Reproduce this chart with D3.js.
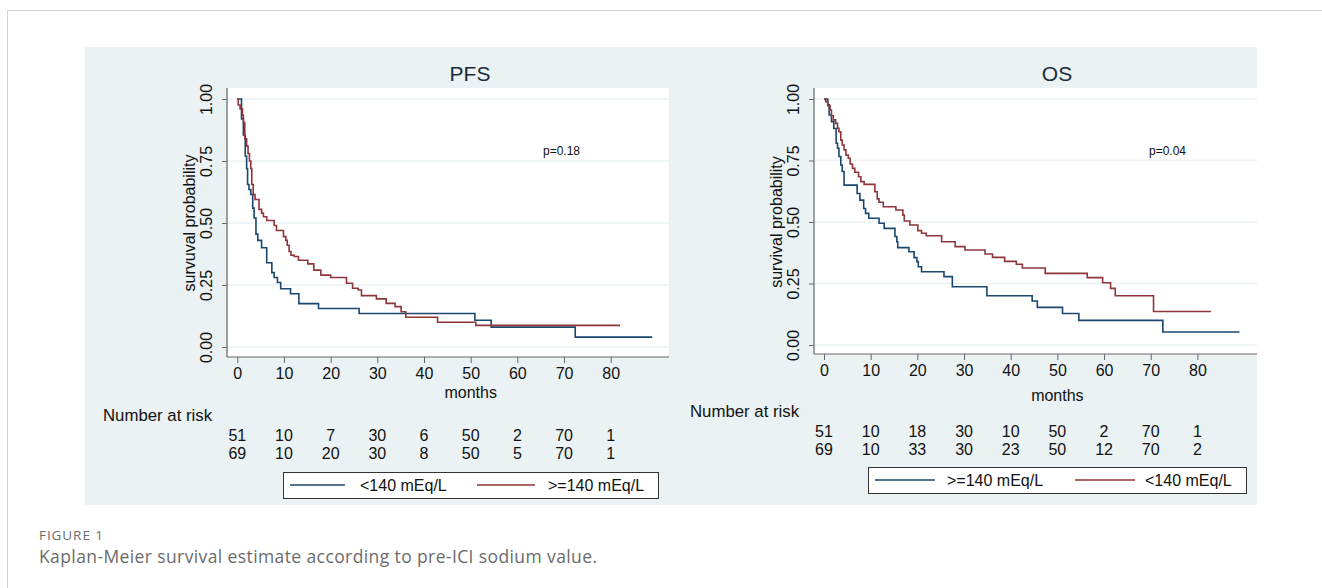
<!DOCTYPE html>
<html>
<head>
<meta charset="utf-8">
<script src="https://cdn.jsdelivr.net/npm/d3@7"></script>
<style>
  body { margin: 0; background: #fff; }
  svg { display: block; font-family: "Liberation Sans", Arial, sans-serif; }
  .tick text { font-size: 16px; fill: #111; }
  .caption { font-family: "Open Sans", sans-serif; fill: #6b6b6b; }
</style>
</head>
<body>
<svg width="1322" height="588"></svg>
<script>
// Kaplan-Meier steps: [months, survival]
var pfsLow = [[0,1],[0.9,0.92],[1.3,0.855],[1.7,0.77],[2.0,0.72],[2.2,0.655],[2.5,0.635],[2.9,0.615],[3.3,0.56],[3.6,0.52],
  [4.0,0.455],[4.4,0.43],[5.2,0.40],[6.3,0.34],[7.4,0.30],[7.9,0.28],[8.6,0.26],[9.3,0.235],[11.4,0.215],[13.2,0.175],
  [17.4,0.155],[26.1,0.135],[50.9,0.108],[54.4,0.08],[72.4,0.04],[88.9,0.04]];
var pfsHigh = [[0,1],[0.2,0.976],[0.6,0.96],[1.1,0.935],[1.3,0.905],[1.6,0.84],[2.0,0.81],[2.3,0.78],[2.6,0.75],[2.9,0.72],
  [3.1,0.655],[3.4,0.615],[3.8,0.595],[4.65,0.555],[5.2,0.54],[5.6,0.525],[6.3,0.51],[7.9,0.49],[8.4,0.47],[9.9,0.445],
  [10.4,0.43],[10.7,0.41],[11.1,0.385],[11.5,0.37],[12.2,0.365],[13.1,0.35],[15.1,0.335],[16.4,0.31],[17.9,0.29],[20.0,0.28],
  [23.4,0.257],[24.7,0.237],[25.9,0.23],[26.6,0.207],[29.8,0.194],[31.9,0.176],[33.8,0.163],[35.1,0.142],[36.1,0.12],
  [42.9,0.10],[51.1,0.087],[82.0,0.087]];
var osHigh = [[0,1],[0.8,0.976],[1.1,0.935],[1.6,0.908],[2.1,0.88],[2.6,0.82],[2.9,0.80],[3.2,0.766],[3.6,0.732],[3.9,0.705],
  [4.3,0.65],[7.1,0.616],[7.7,0.589],[8.5,0.555],[8.9,0.535],[9.6,0.515],[11.8,0.495],[12.9,0.474],[15.2,0.441],[15.6,0.42],
  [15.8,0.396],[18.2,0.379],[19.3,0.355],[19.9,0.339],[20.2,0.318],[20.9,0.298],[25.7,0.278],[27.5,0.237],[34.9,0.20],
  [44.6,0.179],[45.7,0.153],[51.1,0.128],[54.6,0.10],[72.6,0.053],[89.0,0.053]];
var osLow = [[0,1],[0.36,0.989],[0.8,0.973],[1.3,0.955],[1.6,0.932],[2.0,0.915],[2.5,0.901],[2.9,0.881],[3.2,0.867],[3.6,0.833],
  [3.9,0.813],[4.3,0.793],[4.7,0.772],[5.2,0.759],[5.6,0.736],[6.1,0.718],[6.6,0.702],[7.4,0.684],[7.9,0.664],[8.6,0.653],
  [10.9,0.623],[11.4,0.594],[11.8,0.58],[12.7,0.562],[15.4,0.549],[16.9,0.528],[17.2,0.504],[18.4,0.488],[20.1,0.465],
  [20.9,0.454],[21.9,0.444],[25.2,0.42],[28.1,0.40],[30.2,0.386],[34.5,0.37],[36.1,0.356],[38.7,0.34],[41.2,0.328],
  [42.5,0.313],[47.4,0.291],[56.4,0.274],[59.7,0.253],[61.4,0.23],[62.4,0.2],[70.6,0.136],[82.9,0.136]];

// number at risk rows, one value per x tick
var xTicks = [0, 10, 20, 30, 40, 50, 60, 70, 80];
var yTicks = [0, 0.25, 0.5, 0.75, 1];
var pfsRisk1 = [51, 10, 7, 30, 6, 50, 2, 70, 1];
var pfsRisk2 = [69, 10, 20, 30, 8, 50, 5, 70, 1];
var osRisk1 = [51, 10, 18, 30, 10, 50, 2, 70, 1];
var osRisk2 = [69, 10, 33, 30, 23, 50, 12, 70, 2];
var pfsLegend = ["<140 mEq/L", ">=140 mEq/L"];
var osLegend = [">=140 mEq/L", "<140 mEq/L"];

var navy = "#1a476f", maroon = "#90353b", bg = "#eaf2f3";

var svg = d3.select("svg");

// card + figure background
svg.append("rect").attr("x", 7.5).attr("y", 10.5).attr("width", 1330).attr("height", 600)
    .attr("fill", "#fff").attr("stroke", "#d4d4d4");
svg.append("rect").attr("x", 85).attr("y", 47).attr("width", 1172).attr("height", 458).attr("fill", bg);

svg.append("text").attr("class", "caption").attr("x", 39).attr("y", 540)
    .style("font-size", "13.5px").attr("textLength", 64).text("FIGURE 1");
svg.append("text").attr("class", "caption").attr("x", 39).attr("y", 563)
    .style("font-size", "17.5px").attr("textLength", 558)
    .text("Kaplan-Meier survival estimate according to pre-ICI sodium value.");

var panels = [
  {title: "PFS", titleX: 470, left: 227, right: 669, top: 88, bottom: 357, x0: 237.3, y0: 347, y1: 99,
   ylab: "survuval probability", p: "p=0.18", pX: 543, monthsY: 393,
   riskTitleX: 103, riskTitleY: 415, riskY: [435, 453], risk: [pfsRisk1, pfsRisk2],
   series: [pfsLow, pfsHigh], legend: pfsLegend,
   box: {x: 283, y: 472, w: 375, h: 26, l1: [290, 345], t1: 360, l2: [477, 535], t2: 548}},
  {title: "OS", titleX: 1057, left: 814, right: 1257, top: 88, bottom: 354, x0: 824, y0: 345, y1: 99,
   ylab: "survival probability", p: "p=0.04", pX: 1149, monthsY: 396,
   riskTitleX: 690, riskTitleY: 411, riskY: [431, 449], risk: [osRisk1, osRisk2],
   series: [osHigh, osLow], legend: osLegend,
   box: {x: 868, y: 467, w: 378, h: 26, l1: [875, 935], t1: 947, l2: [1075, 1135], t2: 1145}}
];

panels.forEach(function (P) {
  var g = svg.append("g");
  var x = d3.scaleLinear().domain([0, 80]).range([P.x0, P.x0 + 373.4]);
  var y = d3.scaleLinear().domain([0, 1]).range([P.y0, P.y1]);

  g.append("text").attr("x", P.titleX).attr("y", 81).attr("text-anchor", "middle")
      .style("font-size", "21px").attr("fill", "#1c2b3c").text(P.title);

  // plot region
  g.append("rect").attr("x", P.left).attr("y", P.top)
      .attr("width", P.right - P.left).attr("height", P.bottom - P.top).attr("fill", "#fff");

  g.selectAll(".grid").data(yTicks).enter().append("line")
      .attr("x1", P.left).attr("x2", P.right)
      .attr("y1", function (d) { return y(d); }).attr("y2", function (d) { return y(d); })
      .attr("stroke", bg).attr("stroke-width", 1.5);

  // axes
  var ya = g.append("g").attr("transform", "translate(" + P.left + ",0)")
      .call(d3.axisLeft(y).tickValues(yTicks).tickFormat(d3.format(".2f")).tickSize(5).tickPadding(6));
  ya.select(".domain").remove();
  ya.selectAll(".tick line").attr("stroke", "#666");
  ya.selectAll(".tick text").attr("transform", "rotate(-90)").attr("text-anchor", "middle")
      .attr("x", 0).attr("y", -15).attr("dy", "0");

  var xa = g.append("g").attr("transform", "translate(0," + P.bottom + ")")
      .call(d3.axisBottom(x).tickValues(xTicks).tickSize(6).tickPadding(5));
  xa.select(".domain").remove();
  xa.selectAll(".tick line").attr("stroke", "#666");

  g.append("line").attr("x1", P.left).attr("x2", P.left).attr("y1", P.top).attr("y2", P.bottom)
      .attr("stroke", "#666").attr("stroke-width", 1.2);
  g.append("line").attr("x1", P.left).attr("x2", P.right).attr("y1", P.bottom).attr("y2", P.bottom)
      .attr("stroke", "#666").attr("stroke-width", 1.2);

  g.append("text").attr("transform", "translate(" + (P.left - 32) + "," + y(0.5) + ") rotate(-90)")
      .attr("text-anchor", "middle").style("font-size", "16px").attr("fill", "#111").text(P.ylab);
  g.append("text").attr("x", x(50)).attr("y", P.monthsY + 5).attr("text-anchor", "middle")
      .style("font-size", "16px").attr("fill", "#111").text("months");

  g.append("text").attr("x", P.pX).attr("y", 155).style("font-size", "12px").attr("fill", "#111").text(P.p);

  // survival curves
  var line = d3.line().curve(d3.curveStepAfter)
      .x(function (d) { return x(d[0]); })
      .y(function (d) { return y(d[1]); });
  g.selectAll(".km").data(P.series).enter().append("path")
      .attr("d", line).attr("fill", "none")
      .attr("stroke", function (d, i) { return i ? maroon : navy; })
      .attr("stroke-width", 1.6);

  // number at risk
  g.append("text").attr("x", P.riskTitleX).attr("y", P.riskTitleY).attr("dy", "0.35em")
      .style("font-size", "16.8px").attr("fill", "#111").text("Number at risk");
  P.risk.forEach(function (row, r) {
    g.selectAll(".risk" + r).data(row).enter().append("text")
        .attr("x", function (d, i) { return x(xTicks[i]); })
        .attr("y", P.riskY[r]).attr("dy", "0.35em").attr("text-anchor", "middle")
        .style("font-size", "16px").attr("fill", "#111").text(function (d) { return d; });
  });

  // legend
  var b = P.box;
  g.append("rect").attr("x", b.x + 0.5).attr("y", b.y + 0.5).attr("width", b.w).attr("height", b.h)
      .attr("fill", "#fff").attr("stroke", "#333");
  [[b.l1, b.t1, navy], [b.l2, b.t2, maroon]].forEach(function (e, i) {
    g.append("line").attr("x1", e[0][0]).attr("x2", e[0][1])
        .attr("y1", b.y + b.h / 2).attr("y2", b.y + b.h / 2).attr("stroke", e[2]).attr("stroke-width", 1.3);
    g.append("text").attr("x", e[1]).attr("y", b.y + b.h / 2).attr("dy", "0.35em")
        .style("font-size", "16px").attr("fill", "#111").text(P.legend[i]);
  });
});
</script>
</body>
</html>
